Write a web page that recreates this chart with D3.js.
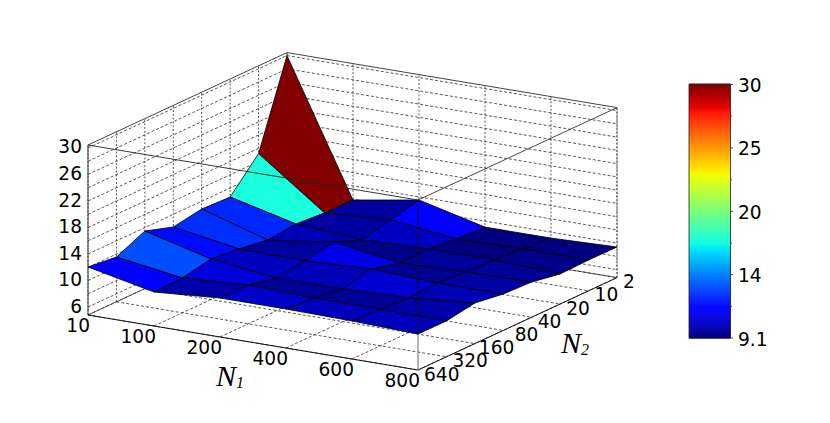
<!DOCTYPE html>
<html><head><meta charset="utf-8">
<script src="https://cdn.jsdelivr.net/npm/d3@7"></script>
<style>html,body{margin:0;padding:0;background:#fff}svg{display:block}text{font-family:"DejaVu Sans";fill:#000}</style>
</head><body><svg id="c" width="830" height="423"></svg>
<script>
const n1Labels = ["10","100","200","400","600","800"];
const n2Labels = ["640","320","160","80","40","20","10","2"];
const zTicks = [6,10,14,18,22,26,30];
const zGrid = [6,8,10,12,14,16,18,20,22,24,26,28,30];
const cbTicks = [9.1,14.325,19.55,24.775,30];
const cbMinor = [11.71,16.94,22.16,27.39];
const cbLabels = ["9.1","14","20","25","30"];
// z values: one array per N1, ordered along n2Labels
const zN1_10  = [12.04,11.56,13.49,12.10,12.82,12.64,17.20,30.00];
const zN1_100 = [9.93,10.05,10.92,10.44,9.81,10.23,9.90,9.87];
const zN1_200 = [10.68,10.65,9.72,10.29,11.16,9.48,10.50,11.53];
const zN1_400 = [10.68,10.35,9.72,10.74,9.66,9.78,9.29,9.10];
const zN1_600 = [10.53,10.35,10.02,10.29,9.96,9.78,9.45,9.10];
const zN1_800 = [10.23,10.20,10.92,10.29,10.11,9.33,9.45,9.42];
const zRows = [zN1_10,zN1_100,zN1_200,zN1_400,zN1_600,zN1_800];

const svg = d3.select("#c");
const u = d3.scalePoint().domain(n1Labels).range([0,1]);
const v = d3.scalePoint().domain(n2Labels).range([0,1]);
const zs = d3.scaleLinear().domain([4.8,30.45]).range([0,170]);
const proj = (a,b,z)=>[88+330*a+199*b, 315+55*a-92.4*b-zs(z)];
const zLo = zs.domain()[0], zHi = zs.domain()[1];
const line = d3.line();
const jr = d3.scaleLinear().domain([0,.35,.66,.89,1]).range([0,0,1,1,.5]);
const jg = d3.scaleLinear().domain([0,.125,.375,.64,.91,1]).range([0,0,1,1,0,0]);
const jb = d3.scaleLinear().domain([0,.11,.34,.65,1]).range([.5,1,1,0,0]);
const faceNorm = d3.scaleLinear().domain([9.3,30]).range([0,1]).clamp(true);
const barNorm = d3.scaleLinear().domain([9.1,30]).range([0,1]).clamp(true);
const jet = t=>`rgb(${Math.round(jr(t)*255)},${Math.round(jg(t)*255)},${Math.round(jb(t)*255)})`;

function seg(g,a,b,st,w,dash){
  g.append("path").attr("d",line([a,b])).attr("fill","none").attr("stroke",st).attr("stroke-width",w).attr("stroke-dasharray",dash||null);
}
const back = svg.append("g");
const gridC="#303030", d="3,2";
// walls + floor grid
zGrid.forEach(z=>{
  seg(back,proj(0,0,z),proj(0,1,z),gridC,.8,d);
  seg(back,proj(0,1,z),proj(1,1,z),gridC,.8,d);
});
n2Labels.forEach(n=>{
  const b=v(n);
  seg(back,proj(0,b,zLo),proj(0,b,zHi),gridC,.8,"2,1.8");
  seg(back,proj(0,b,zLo),proj(1,b,zLo),gridC,.8,d);
});
n1Labels.forEach(n=>{
  const a=u(n);
  seg(back,proj(a,1,zLo),proj(a,1,zHi),gridC,.8,"2,1.8");
  seg(back,proj(a,0,zLo),proj(a,1,zLo),gridC,.8,d);
});
// pane edges
const edge="#444";
seg(back,proj(0,0,zHi),proj(0,1,zHi),edge,1);
seg(back,proj(0,1,zHi),proj(1,1,zHi),edge,1);
seg(back,proj(0,0,zLo),proj(0,0,zHi),edge,1.1);
seg(back,proj(0,0,zLo),proj(0,1,zLo),"#334",.8);
seg(back,proj(0,1,zLo),proj(1,1,zLo),"#334",.8);
seg(back,proj(1,1,zLo),proj(1,1,zHi),"#333",.8,"2,1.5");
seg(back,proj(0,0,zLo),proj(1,0,zLo),"#111",1);
seg(back,proj(1,0,zLo),proj(1,1,zLo),"#111",1);
seg(back,proj(1,0,zLo),proj(1,0,zHi),"#777",1.1);

// surface
const faces=[];
for(let j=n2Labels.length-2;j>=0;j--) for(let i=0;i<n1Labels.length-1;i++){
  const P=(p,q)=>proj(u(n1Labels[p]),v(n2Labels[q]),zRows[p][q]);
  faces.push({pts:[P(i,j),P(i,j+1),P(i+1,j+1),P(i+1,j)],val:zRows[i][j+1]});
}
svg.append("g").selectAll("path").data(faces).join("path")
  .attr("d",f=>line(f.pts)+"Z").attr("fill",f=>jet(faceNorm(f.val)))
  .attr("stroke","#000").attr("stroke-width",.8).attr("stroke-linejoin","round");

// box edges that cross over the surface
const over=svg.append("g");
seg(over,proj(0,0,zHi),proj(1,0,zHi),"#222",.9);
seg(over,proj(1,0,zHi),proj(1,1,zHi),"#333",.9);
seg(over,proj(1,0,10.23),proj(1,0,zHi),"#111",.9);

// tick labels
const fs=18.6;
const lab=svg.append("g").attr("font-size",fs);
lab.selectAll("text.z").data(zTicks).join("text").attr("class","z")
  .attr("x",proj(0,0,zLo)[0]-6).attr("y",t=>proj(0,0,t)[1]-1)
  .attr("text-anchor","end").attr("dominant-baseline","central").text(t=>t);
lab.selectAll("text.n1").data(n1Labels).join("text").attr("class","n1")
  .attr("x",n=>proj(u(n),0,zLo)[0]+2).attr("y",n=>proj(u(n),0,zLo)[1]+10)
  .attr("text-anchor","end").attr("dominant-baseline","central").text(n=>n);
lab.selectAll("text.n2").data(n2Labels).join("text").attr("class","n2")
  .attr("x",n=>proj(1,v(n),zLo)[0]+(n==="160"?4:n==="80"?11.5:6)).attr("y",n=>proj(1,v(n),zLo)[1]+4)
  .attr("dominant-baseline","central").text(n=>n);

// axis titles
function title(x,y,sub){
  const t=svg.append("text").attr("x",x).attr("y",y).style("font-family","'Liberation Serif'").style("font-style","italic").attr("font-size",30);
  t.append("tspan").text("N");
  t.append("tspan").attr("font-size",16).attr("dy",2).text(sub);
}
title(216,386,"1");
title(561,353,"2");

// colour bar
const cbX=689,cbW=41.5;
const cy=d3.scaleLinear().domain([9.1,30]).range([338,84.5]);
const levels=d3.range(0,256).map(k=>9.1+20.9*k/255);
const cb=svg.append("g");
cb.selectAll("rect").data(levels).join("rect")
  .attr("x",cbX).attr("width",cbW).attr("y",z=>cy(z)-1).attr("height",1.6)
  .attr("fill",z=>jet(barNorm(z)));
cb.append("rect").attr("x",cbX).attr("y",cy(30)).attr("width",cbW).attr("height",cy(9.1)-cy(30))
  .attr("fill","none").attr("stroke","#222").attr("stroke-width",.8);
cbTicks.forEach(t=>seg(cb,[cbX+cbW,cy(t)],[cbX+cbW+2.5,cy(t)],"#222",.8));
cbMinor.forEach(t=>seg(cb,[cbX+cbW,cy(t)],[cbX+cbW+1.5,cy(t)],"#222",.8));
cb.selectAll("text").data(cbTicks).join("text")
  .attr("x",cbX+cbW+7.5).attr("y",t=>cy(t)+1).attr("font-size",fs)
  .attr("dominant-baseline","central").text((t,i)=>cbLabels[i]);
</script></body></html>
